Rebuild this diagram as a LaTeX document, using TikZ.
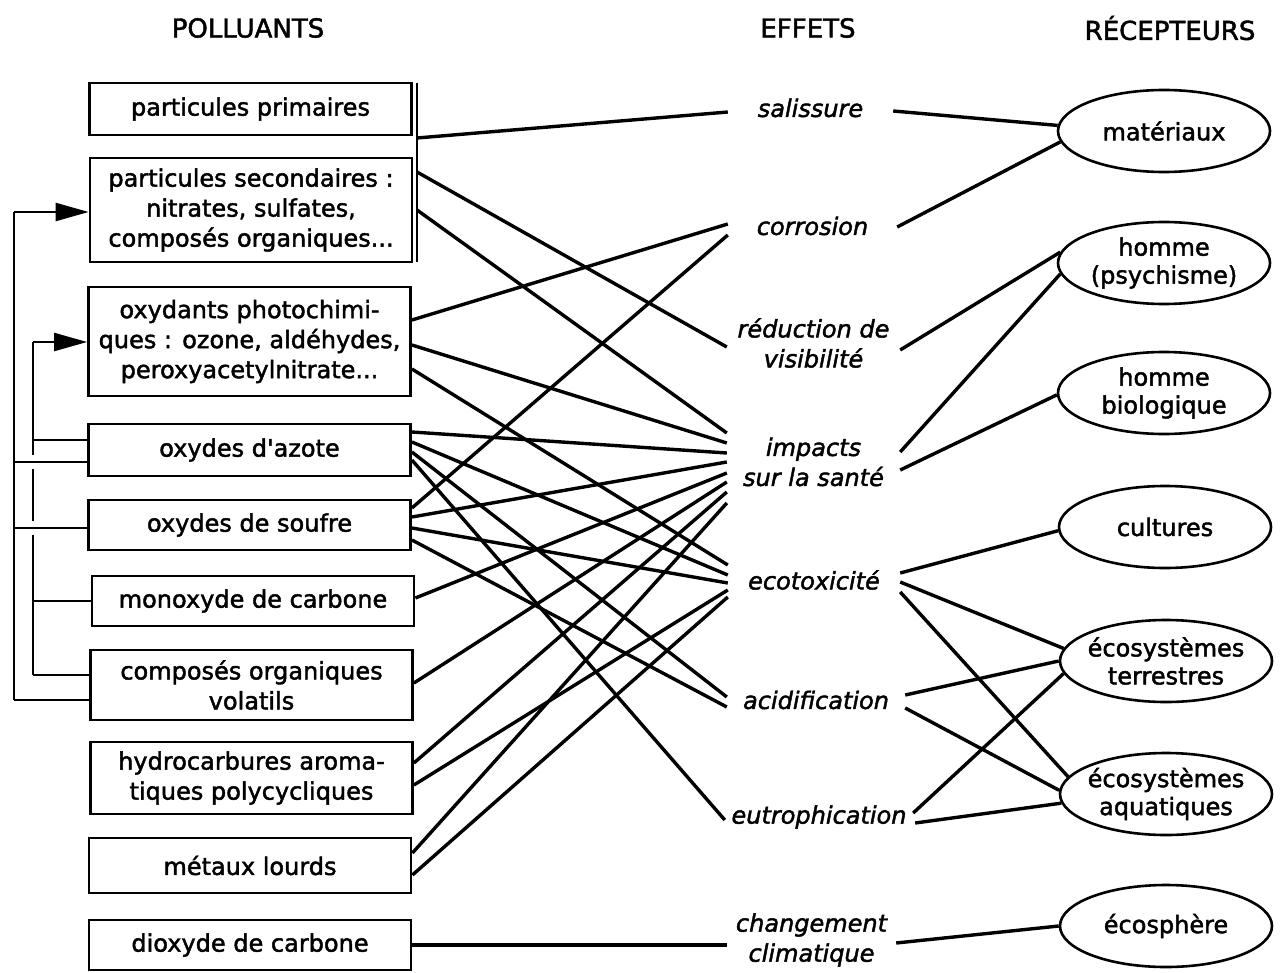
\documentclass[tikz,border=0pt]{standalone}
\usepackage{fontspec}
\setmainfont{DejaVu Sans}[UprightFeatures={FakeBold=1.8},ItalicFeatures={FakeBold=1.8}]
\usetikzlibrary{calc,arrows.meta,shapes.geometric}
\begin{document}
\begin{tikzpicture}[x=1pt,y=-1pt,
  pol/.style={draw,line width=2.8pt,minimum width=322pt,inner sep=0pt,align=center,font=\fontsize{24}{30}\selectfont},
  eff/.style={inner sep=0pt,align=center,font=\fontsize{24}{30}\selectfont\itshape},
  hdr/.style={inner sep=0pt,font=\fontsize{26}{30}\selectfont},
  rec/.style={draw,ellipse,line width=2.6pt,minimum width=212pt,minimum height=82pt,inner sep=0pt},
  rtxt/.style={inner sep=0pt,align=center,font=\fontsize{24}{28}\selectfont},
  link/.style={line width=3.4pt},
  fb/.style={line width=2.4pt},
  arr/.style={-{Triangle[length=33pt,width=18pt]}}]
\useasboundingbox (0,0) rectangle (1281,973);

% headers
\node[hdr] (h1) at (248,28) {POLLUANTS};
\node[hdr] (h2) at (808,28) {EFFETS};
\node[hdr] (h3) at (1170,28) {RÉCEPTEURS};

% pollutants
\node[pol,minimum height=52pt]  (pp)  at (250.5,109)   {particules primaires};
\node[pol,minimum height=104pt] (sec) at (251,210)     {particules secondaires :\\nitrates, sulfates,\\composés organiques...};
\node[pol,minimum height=109pt] (ox)  at (249.5,341.5) {oxydants photochimi-\\ques : ozone, aldéhydes,\\peroxyacetylnitrate...};
\node[pol,minimum height=52pt]  (az)  at (249.5,450)   {oxydes d\textquotesingle azote};
\node[pol,minimum height=50pt]  (so)  at (249.5,525)   {oxydes de soufre};
\node[pol,minimum height=50pt]  (co)  at (253,601)     {monoxyde de carbone};
\node[pol,minimum height=70pt]  (cov) at (251.5,685)   {composés organiques\\volatils};
\node[pol,minimum height=72pt]  (hap) at (251.5,778)   {hydrocarbures aroma-\\tiques polycycliques};
\node[pol,minimum height=55pt]  (met) at (250,865.5)   {métaux lourds};
\node[pol,minimum height=50pt]  (co2) at (250,945)     {dioxyde de carbone};

% effects
\node[eff,minimum width=165pt] (sal) at (810.5,108) {salissure};
\node[eff,minimum width=169pt] (cor) at (812.5,226) {corrosion};
\node[eff,minimum width=173pt] (red) at (813.5,343) {réduction de\\visibilité};
\node[eff,minimum width=173pt] (imp) at (813.5,462) {impacts\\sur la santé};
\node[eff,minimum width=172pt] (eco) at (814,580)   {ecotoxicité};
\node[eff,minimum width=178pt] (aci) at (816,700)   {acidification};
\node[eff,minimum width=188pt] (eut) at (819,817)   {eutrophication};
\node[eff,minimum width=169pt] (chg) at (811.5,940) {changement\\climatique};

% receptors
\node[rec] (mat) at (1164,131) {};
\node[rtxt] at (mat) {matériaux};
\node[rec] (psy) at (1164,263) {};
\node[rtxt] at (psy) {homme\\(psychisme)};
\node[rec] (bio) at (1164,393) {};
\node[rtxt] at (bio) {homme\\biologique};
\node[rec] (cul) at (1165,527) {};
\node[rtxt] at (cul) {cultures};
\node[rec] (ter) at (1166,661) {};
\node[rtxt] at (ter) {écosystèmes\\terrestres};
\node[rec] (aqu) at (1166,794) {};
\node[rtxt] at (aqu) {écosystèmes\\aquatiques};
\node[rec] (sph) at (1166,926) {};
\node[rtxt] at (sph) {écosphère};

% bracket joining the two particle boxes
\coordinate (brT) at (417,83);
\coordinate (brB) at (417,262);
\coordinate (b1) at (417,138);
\coordinate (b2) at (417,172);
\coordinate (b3) at (417,210);
\draw[fb] (brT) -- (brB);

% pollutants -> effects
\draw[link] (b1) -- ($(sal.west)+(0,4)$);
\draw[link] (b2) -- ($(red.west)+(0,4)$);
\draw[link] (b3) -- ($(imp.west)+(0,-29)$);

\draw[link] ($(ox.east)+(0,-21.5)$) -- ($(cor.west)+(0,-2)$);
\draw[link] ($(ox.east)+(0,3.5)$)   -- ($(imp.west)+(0,-19)$);
\draw[link] ($(ox.east)+(0,27.5)$)  -- ($(eco.west)+(0,-15)$);

\draw[link] ($(az.east)+(0,-18)$) -- ($(imp.west)+(0,-9)$);
\draw[link] ($(az.east)+(0,-8)$)  -- ($(eco.west)+(0,-5)$);
\draw[link] ($(az.east)+(0,2)$)   -- ($(aci.west)+(0,-3)$);
\draw[link] ($(az.east)+(0,10)$)  -- ($(eut.west)+(0,3)$);

\draw[link] ($(so.east)+(0,-17)$) -- ($(cor.west)+(0,9)$);
\draw[link] ($(so.east)+(0,-8)$)  -- ($(imp.west)+(0,0)$);
\draw[link] ($(so.east)+(0,3)$)   -- ($(eco.west)+(0,3)$);
\draw[link] ($(so.east)+(0,15)$)  -- ($(aci.west)+(0,7)$);

\draw[link] ($(co.east)+(0,-3)$)  -- ($(imp.west)+(0,11)$);
\draw[link] ($(cov.east)+(0,-2)$) -- ($(imp.west)+(0,20)$);

\draw[link] ($(hap.east)+(0,-15)$) -- ($(imp.west)+(0,30)$);
\draw[link] ($(hap.east)+(0,7)$)   -- ($(eco.west)+(0,10)$);

\draw[link] ($(met.east)+(0,-12.5)$) -- ($(imp.west)+(0,41)$);
\draw[link] ($(met.east)+(0,9.5)$)   -- ($(eco.west)+(0,17)$);

\draw[link] (co2.east) -- ($(chg.west)+(0,5)$);

% effects -> receptors
\draw[link] ($(sal.east)+(0,3)$)  -- (mat.177);
\draw[link] ($(cor.east)+(0,1)$)  -- (mat.186);
\draw[link] ($(red.east)+(0,7)$)  -- (psy.174);
\draw[link] ($(imp.east)+(0,-10)$) -- (psy.186);
\draw[link] ($(imp.east)+(0,8)$)  -- (bio.181);
\draw[link] ($(eco.east)+(0,-7)$) -- (cul.182);
\draw[link] ($(eco.east)+(0,2)$)  -- (ter.173);
\draw[link] ($(eco.east)+(0,12)$) -- (aqu.170);
\draw[link] ($(aci.east)+(0,-5)$) -- (ter.180);
\draw[link] ($(aci.east)+(0,8)$)  -- (aqu.178);
\draw[link] ($(eut.east)+(0,-4)$) -- (ter.187);
\draw[link] ($(eut.east)+(2,6)$)  -- (aqu.185);
\draw[link] ($(chg.east)+(0,3)$)  -- (sph.180);

% feedback loops on the left
\coordinate (oT) at (14,212);
\coordinate (oB) at (14,700);
\coordinate (o4) at (14,462);
\coordinate (o5) at (14,528);
\coordinate (iT) at (33,342);
\coordinate (iB) at (33,675);
\coordinate (i4) at (33,440);
\coordinate (i6) at (33,601);

\draw[fb] (iT) -- (33,455) (33,469) -- (33,521) (33,535) -- (iB);
\draw[fb,arr] (iT) -- ($(ox.west)+(0,0.5)$);
\draw[fb] ($(az.west)+(0,-10)$) -- (i4);
\draw[fb] (co.west) -- (i6);
\draw[fb] ($(cov.west)+(0,-10)$) -- (iB);

\draw[fb] (oB) -- (oT);
\draw[fb,arr] (oT) -- ($(sec.west)+(0,2)$);
\draw[fb] ($(az.west)+(0,12)$) -- (o4);
\draw[fb] ($(so.west)+(0,3)$) -- (o5);
\draw[fb] ($(cov.west)+(0,15)$) -- (oB);
\end{tikzpicture}
\end{document}
